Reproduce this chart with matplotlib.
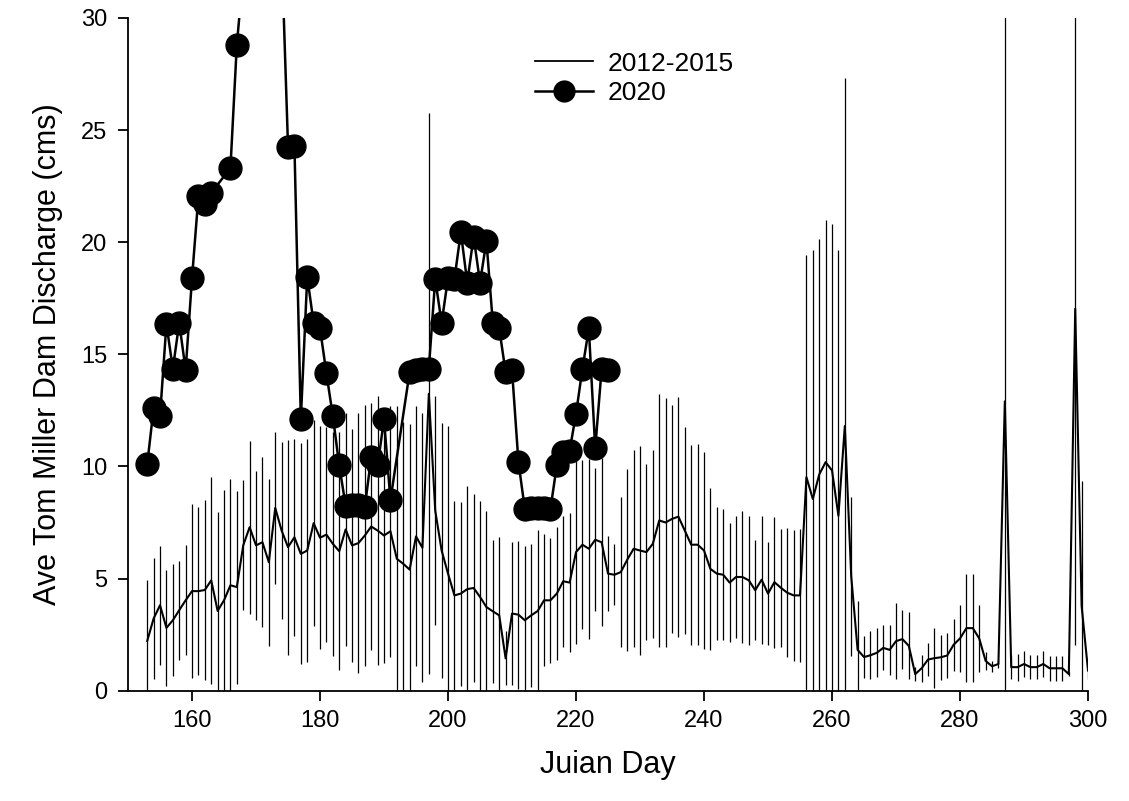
import numpy as np
import matplotlib
matplotlib.use("Agg")
import matplotlib.pyplot as plt
from matplotlib.lines import Line2D

plt.rcParams['font.family'] = ['Liberation Sans', 'DejaVu Sans']

# 2012-2015 average discharge (daily mean and SD), days 153-300
days_hist = list(range(153, 301))
mean_hist = [
    2.22, 3.22, 3.81, 2.80, 3.14, 3.59, 4.03, 4.44, 4.44, 4.49,
    4.92, 3.56, 4.03, 4.70, 4.62, 6.48, 7.29, 6.48, 6.62, 5.73,
    8.15, 7.14, 6.40, 6.84, 6.10, 6.25, 7.47, 6.82, 6.96, 6.55,
    6.22, 7.19, 6.48, 6.58, 6.92, 7.32, 7.14, 6.92, 7.11, 5.88,
    5.66, 5.40, 6.88, 6.37, 13.24, 8.03, 6.25, 5.22, 4.25, 4.33,
    4.53, 4.58, 4.18, 3.73, 3.54, 3.36, 1.44, 3.44, 3.39, 3.14,
    3.36, 3.55, 4.03, 4.03, 4.33, 4.88, 4.82, 6.18, 6.51, 6.33,
    6.73, 6.62, 5.22, 5.17, 5.29, 5.84, 6.33, 6.25, 6.18, 6.55,
    7.59, 7.50, 7.66, 7.76, 7.14, 6.51, 6.51, 6.25, 5.43, 5.22,
    5.17, 4.82, 5.07, 5.07, 4.92, 4.48, 4.95, 4.33, 4.84, 4.59,
    4.37, 4.25, 4.25, 9.52, 8.55, 9.64, 10.19, 9.82, 7.80, 11.80,
    5.10, 1.82, 1.50, 1.58, 1.69, 1.91, 1.82, 2.21, 2.30, 2.00,
    0.74, 1.00, 1.39, 1.45, 1.49, 1.57, 2.05, 2.33, 2.79, 2.79,
    2.33, 1.33, 1.09, 1.19, 12.90, 1.05, 1.05, 1.19, 1.05, 1.05,
    1.19, 1.00, 1.00, 1.00, 0.74, 17.03, 3.78, 0.90,
]
sd_hist = [
    2.73, 2.71, 2.65, 2.60, 2.50, 2.20, 2.45, 3.89, 3.74, 4.00,
    4.60, 4.40, 4.90, 4.75, 4.30, 2.90, 3.85, 3.33, 3.80, 3.72,
    3.39, 3.95, 4.80, 4.40, 4.93, 4.98, 4.60, 4.97, 4.80, 5.00,
    5.30, 5.20, 5.20, 5.80, 5.80, 5.50, 6.00, 5.70, 5.60, 6.80,
    6.30, 6.50, 5.80, 6.00, 12.50, 5.10, 5.70, 6.60, 4.20, 4.10,
    4.60, 4.20, 4.30, 4.30, 3.20, 3.50, 1.20, 3.20, 3.30, 3.30,
    3.20, 3.60, 2.95, 2.80, 2.96, 2.93, 3.10, 4.09, 3.78, 4.01,
    3.19, 3.74, 1.66, 1.37, 3.36, 4.05, 4.39, 4.67, 3.93, 4.20,
    5.64, 5.54, 5.08, 5.35, 4.61, 4.46, 4.47, 4.41, 3.61, 2.98,
    2.92, 2.65, 2.72, 2.96, 2.87, 2.24, 2.85, 2.29, 2.92, 2.63,
    2.88, 2.93, 2.96, 9.90, 11.10, 10.50, 10.80, 10.97, 11.85, 15.50,
    3.55, 2.17, 0.93, 1.07, 1.10, 1.00, 1.10, 1.70, 1.32, 1.49,
    0.30, 0.60, 0.72, 1.35, 1.00, 1.00, 1.15, 1.50, 2.40, 2.40,
    1.50, 0.40, 0.25, 0.20, 18.00, 0.55, 0.60, 0.60, 0.55, 0.55,
    0.60, 0.55, 0.55, 0.55, 0.10, 15.00, 5.56, 0.40,
]

# 2020 daily discharge
days_2020 = [153, 154, 155, 156, 157, 158, 159, 160, 161, 162, 163, 166, 167,
             168, 169, 170, 171, 172, 173, 174, 175, 176, 177, 178, 179, 180,
             181, 182, 183, 184, 185, 186, 187, 188, 189, 190, 191, 194, 195,
             196, 197, 198, 199, 200, 201, 202, 203, 204, 205, 206, 207, 208,
             209, 210, 211, 212, 213, 214, 215, 216, 217, 218, 219, 220, 221,
             222, 223, 224, 225]
vals_2020 = [10.1, 12.6, 12.25, 16.35, 14.35, 16.4, 14.3, 18.4, 22.05, 21.7,
             22.2, 23.3, 28.8, 32.0, 36.0, 38.0, 37.0, 36.0, 35.0, 33.0, 24.25,
             24.3, 12.1, 18.45, 16.4, 16.15, 14.15, 12.25, 10.05, 8.25, 8.3,
             8.3, 8.2, 10.4, 10.05, 12.1, 8.5, 14.2, 14.3, 14.35, 14.35, 18.35,
             16.4, 18.4, 18.35, 20.45, 18.2, 20.25, 18.2, 20.05, 16.4, 16.15,
             14.2, 14.3, 10.2, 8.1, 8.15, 8.15, 8.15, 8.1, 10.05, 10.65, 10.7,
             12.35, 14.35, 16.15, 10.8, 14.35, 14.3]

x_ticks = [160, 180, 200, 220, 240, 260, 280, 300]
y_ticks = [0, 5, 10, 15, 20, 25, 30]

fig = plt.figure(figsize=(11.29, 8.01), dpi=100)
ax = fig.add_axes([0.1134, 0.1377, 0.8503, 0.8400])

ax.errorbar(days_hist, mean_hist, yerr=sd_hist, color='black', lw=1.5,
            elinewidth=0.9, capsize=0, zorder=2)
ax.plot(days_2020, vals_2020, color='black', lw=1.8, marker='o',
        markersize=16.5, zorder=3)

ax.set_xlim(150, 300)
ax.set_ylim(0, 30)
ax.set_xticks(x_ticks)
ax.set_yticks(y_ticks)
for s in ['top', 'right']:
    ax.spines[s].set_visible(False)
for s in ['left', 'bottom']:
    ax.spines[s].set_linewidth(1.3)
ax.tick_params(direction='out', length=7, width=1.3, labelsize=17)
ax.tick_params(axis='y', pad=8)
ax.tick_params(axis='x', pad=7)

ax.set_xlabel('Juian Day', fontsize=22, labelpad=13)
ax.set_ylabel('Ave Tom Miller Dam Discharge (cms)', fontsize=22, labelpad=13)

handles = [
    Line2D([], [], color='black', lw=1.3),
    Line2D([], [], color='black', lw=1.8, marker='o', markersize=15),
]
ax.legend(handles, ['2012-2015', '2020'], loc='upper left',
          bbox_to_anchor=(0.424, 0.95), frameon=False, borderpad=0,
          borderaxespad=0, fontsize=19, handlelength=2.2, handletextpad=0.55,
          labelspacing=0.2)

fig.savefig('out.png', dpi=100)
